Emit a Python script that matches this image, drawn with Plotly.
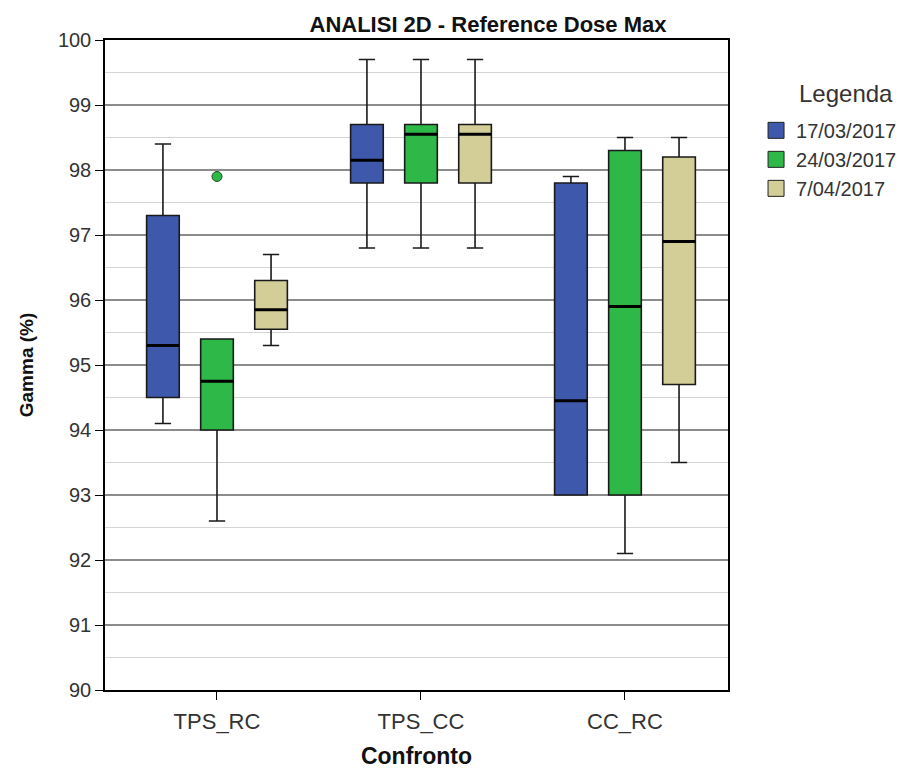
import plotly.graph_objects as go

categories = ["TPS_RC", "TPS_CC", "CC_RC"]
series_names = ["17/03/2017", "24/03/2017", "7/04/2017"]
series_colors = ["#3E58AC", "#2EB848", "#D3CE97"]

# per series: values for each category
lower = [[94.1, 96.8, 93.0], [92.6, 96.8, 92.1], [95.3, 96.8, 93.5]]
q1 = [[94.5, 97.8, 93.0], [94.0, 97.8, 93.0], [95.55, 97.8, 94.7]]
median = [[95.3, 98.15, 94.45], [94.75, 98.55, 95.9], [95.85, 98.55, 96.9]]
q3 = [[97.3, 98.7, 97.8], [95.4, 98.7, 98.3], [96.3, 98.7, 98.2]]
upper = [[98.4, 99.7, 97.9], [95.4, 99.7, 98.5], [96.7, 99.7, 98.5]]

outlier_series = 1
outlier_category = 0
outlier_value = 97.9

box_w = 0.16
offsets = [-0.265, 0.0, 0.265]

fig = go.Figure()
for s in range(3):
    xs = [c + 1 + offsets[s] for c in range(3)]
    fig.add_trace(go.Box(
        x=xs, q1=q1[s], median=median[s], q3=q3[s],
        lowerfence=lower[s], upperfence=upper[s],
        width=box_w, whiskerwidth=0.5,
        fillcolor=series_colors[s],
        line=dict(color="#1a1a1a", width=1.6),
        name=series_names[s], showlegend=False, boxpoints=False,
        hoverinfo="skip",
    ))
    mx, my = [], []
    for c in range(3):
        mx += [xs[c] - box_w / 2, xs[c] + box_w / 2, None]
        my += [median[s][c], median[s][c], None]
    fig.add_trace(go.Scatter(x=mx, y=my, mode="lines",
                             line=dict(color="black", width=3.2),
                             showlegend=False, hoverinfo="skip"))
    fig.add_trace(go.Scatter(x=[None], y=[None], mode="markers",
                             marker=dict(symbol="square", size=22,
                                         color=series_colors[s],
                                         line=dict(color="#222", width=1)),
                             name=series_names[s]))

fig.add_trace(go.Scatter(
    x=[outlier_category + 1 + offsets[outlier_series]], y=[outlier_value],
    mode="markers",
    marker=dict(size=10, color=series_colors[outlier_series],
                line=dict(color="#1a4a1f", width=1)),
    showlegend=False, hoverinfo="skip"))

fig.update_layout(
    width=911, height=770,
    margin=dict(l=97, r=191, t=32, b=88, autoexpand=False),
    paper_bgcolor="white", plot_bgcolor="white",
    font=dict(family="Liberation Sans, Arial, sans-serif", size=20, color="#333"),
    title=dict(text="<b>ANALISI 2D - Reference Dose Max</b>",
               x=480 / 911, xanchor="center", y=1 - 16 / 770, yanchor="middle",
               font=dict(size=22, color="#111")),
    legend=dict(x=1.045, xanchor="left", y=0.891, yanchor="top",
                font=dict(size=20)),
    showlegend=True,
    annotations=[dict(text="Legenda", xref="paper", yref="paper",
                      x=1.19, y=0.918, xanchor="center",
                      yanchor="middle", showarrow=False,
                      font=dict(size=24, color="#333"))],
)
fig.update_xaxes(
    range=[0.451, 3.505], tickmode="array",
    tickvals=[i + 1 for i in range(len(categories))], ticktext=categories,
    showgrid=False, zeroline=False, automargin=False,
    showline=True, linecolor="black", linewidth=1.5, mirror=True,
    ticks="outside", ticklen=8, tickcolor="black", ticklabelstandoff=3,
    title=dict(text="<b>Confronto</b>", font=dict(size=23, color="#111"), standoff=15),
    tickfont=dict(size=22),
)
fig.update_yaxes(
    range=[90, 100], dtick=1, tick0=90,
    showgrid=True, gridcolor="#8c8c8c", gridwidth=1.5,
    minor=dict(dtick=0.5, showgrid=True, gridcolor="#d4d4d4", gridwidth=1),
    zeroline=False, automargin=False,
    showline=True, linecolor="black", linewidth=1.5, mirror=True,
    ticks="outside", ticklen=8, tickcolor="black",
    title=dict(text="<b>Gamma (%)</b>", font=dict(size=19, color="#111"), standoff=19),
    tickfont=dict(size=20),
)

fig.write_html("out.html")
